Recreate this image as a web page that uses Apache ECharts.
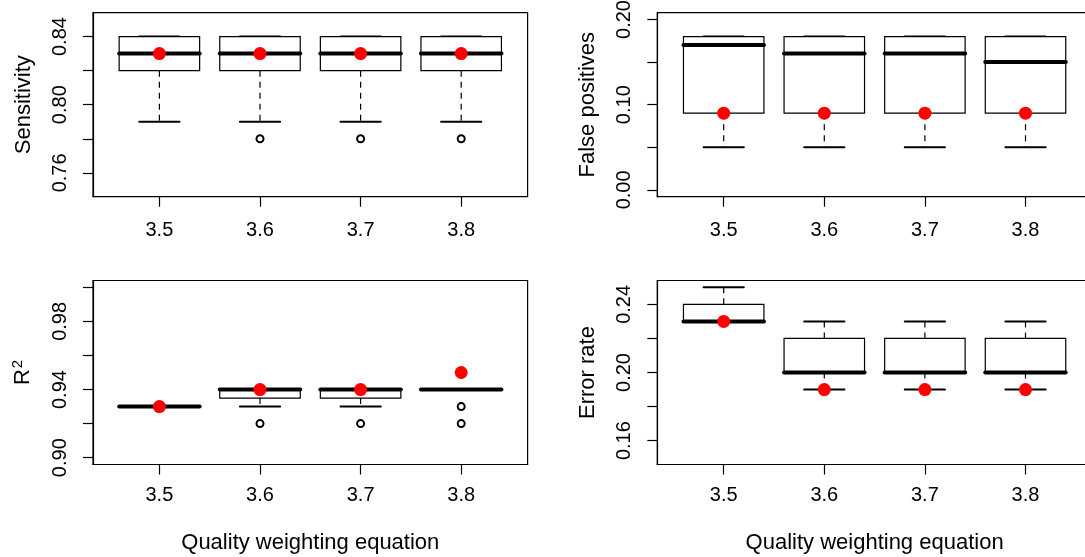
<!DOCTYPE html>
<html>
<head>
<meta charset="utf-8">
<title>Quality weighting equation</title>
<script src="https://cdn.jsdelivr.net/npm/echarts@6.0.0/dist/echarts.min.js"></script>
<style>
  html, body { margin: 0; padding: 0; background: #fff; }
  #chart { width: 1085px; height: 557px; }
</style>
</head>
<body>
<div id="chart"></div>
<script>
const categories = ['3.5', '3.6', '3.7', '3.8']

// Sensitivity
const sensLow = [0.79, 0.79, 0.79, 0.79]
const sensQ1 = [0.82, 0.82, 0.82, 0.82]
const sensMedian = [0.83, 0.83, 0.83, 0.83]
const sensQ3 = [0.84, 0.84, 0.84, 0.84]
const sensHigh = [0.84, 0.84, 0.84, 0.84]
const sensOutliers = [[], [0.78], [0.78], [0.78]]
const sensMean = [0.83, 0.83, 0.83, 0.83]
const sensTicks = [0.76, 0.78, 0.80, 0.82, 0.84]
const sensLabels = [0.76, 0.80, 0.84]

// False positives
const fpLow = [0.05, 0.05, 0.05, 0.05]
const fpQ1 = [0.09, 0.09, 0.09, 0.09]
const fpMedian = [0.17, 0.16, 0.16, 0.15]
const fpQ3 = [0.18, 0.18, 0.18, 0.18]
const fpHigh = [0.18, 0.18, 0.18, 0.18]
const fpOutliers = [[], [], [], []]
const fpMean = [0.09, 0.09, 0.09, 0.09]
const fpTicks = [0, 0.05, 0.10, 0.15, 0.20]
const fpLabels = [0, 0.10, 0.20]

// R squared
const r2Low = [0.93, 0.93, 0.93, 0.94]
const r2Q1 = [0.93, 0.935, 0.935, 0.94]
const r2Median = [0.93, 0.94, 0.94, 0.94]
const r2Q3 = [0.93, 0.94, 0.94, 0.94]
const r2High = [0.93, 0.94, 0.94, 0.94]
const r2Outliers = [[], [0.92], [0.92], [0.93, 0.92]]
const r2Mean = [0.93, 0.94, 0.94, 0.95]
const r2Ticks = [0.90, 0.92, 0.94, 0.96, 0.98, 1.00]
const r2Labels = [0.90, 0.94, 0.98]

// Error rate
const errLow = [0.23, 0.19, 0.19, 0.19]
const errQ1 = [0.23, 0.20, 0.20, 0.20]
const errMedian = [0.23, 0.20, 0.20, 0.20]
const errQ3 = [0.24, 0.22, 0.22, 0.22]
const errHigh = [0.25, 0.23, 0.23, 0.23]
const errOutliers = [[], [], [], []]
const errMean = [0.23, 0.19, 0.19, 0.19]
const errTicks = [0.16, 0.18, 0.20, 0.22, 0.24]
const errLabels = [0.16, 0.20, 0.24]

const FONT = "'Liberation Sans', Arial, Helvetica, sans-serif"

// plot regions (R style: shared frame size, right column runs past the edge)
const panels = [
  { left: 93, top: 12.7, title: 'Sensitivity', yMin: 0.746, yMax: 0.854, ticks: sensTicks, labels: sensLabels, xName: '', labelMargin: 24 },
  { left: 657.3, top: 12.7, title: 'False positives', yMin: -0.008, yMax: 0.208, ticks: fpTicks, labels: fpLabels, xName: '', labelMargin: 24 },
  { left: 93, top: 280.5, title: '{r|R}{s|2}', yMin: 0.896, yMax: 1.004, ticks: r2Ticks, labels: r2Labels, xName: 'Quality weighting equation', labelMargin: 21 },
  { left: 657.3, top: 280.5, title: 'Error rate', yMin: 0.146, yMax: 0.254, ticks: errTicks, labels: errLabels, xName: 'Quality weighting equation', labelMargin: 21 },
]

const boxStats = [
  [sensLow, sensQ1, sensMedian, sensQ3, sensHigh, sensOutliers, sensMean],
  [fpLow, fpQ1, fpMedian, fpQ3, fpHigh, fpOutliers, fpMean],
  [r2Low, r2Q1, r2Median, r2Q3, r2High, r2Outliers, r2Mean],
  [errLow, errQ1, errMedian, errQ3, errHigh, errOutliers, errMean],
]

function renderBox(params, api) {
  const x = api.value(0)
  const lo = api.value(1)
  const q1 = api.value(2)
  const med = api.value(3)
  const q3 = api.value(4)
  const hi = api.value(5)
  const pt = (dx, v) => api.coord([x + dx, v])
  const seg = (dx1, v1, dx2, v2, style) => {
    const a = pt(dx1, v1)
    const b = pt(dx2, v2)
    return { type: 'line', shape: { x1: a[0], y1: a[1], x2: b[0], y2: b[1] }, style }
  }
  const dashed = { stroke: '#000', lineWidth: 1.2, lineDash: [6, 5] }
  const cap = { stroke: '#000', lineWidth: 2, lineCap: 'round' }
  const children = []
  if (hi > q3) children.push(seg(0, q3, 0, hi, dashed))
  if (lo < q1) children.push(seg(0, q1, 0, lo, dashed))
  children.push(seg(-0.2, hi, 0.2, hi, cap))
  children.push(seg(-0.2, lo, 0.2, lo, cap))
  if (q3 > q1) {
    const a = pt(-0.4, q3)
    const b = pt(0.4, q1)
    children.push({
      type: 'rect',
      shape: { x: a[0], y: a[1], width: b[0] - a[0], height: b[1] - a[1] },
      style: { fill: '#fff', stroke: '#000', lineWidth: 1.2 },
    })
  }
  children.push(seg(-0.4, med, 0.4, med, { stroke: '#000', lineWidth: 4, lineCap: 'round' }))
  return { type: 'group', children }
}

const grid = []
const xAxis = []
const yAxis = []
const series = []

panels.forEach((p, i) => {
  grid.push({
    left: p.left,
    top: p.top,
    width: 434.6,
    height: 184,
    show: true,
    borderColor: '#000',
    borderWidth: 1.2,
    backgroundColor: 'transparent',
    containLabel: false,
    outerBoundsMode: 'none',
  })
  xAxis.push({
    gridIndex: i,
    type: 'value',
    min: 0.34,
    max: 4.66,
    splitLine: { show: false },
    axisLine: { show: true, onZero: false, lineStyle: { color: '#000', width: 1.2 } },
    axisTick: { show: true, length: 10, customValues: [1, 2, 3, 4], lineStyle: { color: '#000', width: 1.2 } },
    axisLabel: {
      customValues: [1, 2, 3, 4],
      formatter: v => categories[v - 1],
      color: '#000',
      fontSize: 20,
      fontFamily: FONT,
      margin: p.labelMargin,
    },
    name: p.xName,
    nameLocation: 'middle',
    nameGap: 67,
    nameTextStyle: { color: '#000', fontSize: 22, fontFamily: FONT },
  })
  yAxis.push({
    gridIndex: i,
    type: 'value',
    min: p.yMin,
    max: p.yMax,
    splitLine: { show: false },
    axisLine: { show: true, lineStyle: { color: '#000', width: 1.2 } },
    axisTick: { show: true, length: 10, customValues: p.ticks, lineStyle: { color: '#000', width: 1.2 } },
    axisLabel: {
      customValues: p.labels,
      formatter: v => v.toFixed(2),
      rotate: 90,
      color: '#000',
      fontSize: 20,
      fontFamily: FONT,
      margin: 23,
    },
    name: p.title,
    nameLocation: 'middle',
    nameRotate: 90,
    nameGap: 58,
    nameTextStyle: {
      color: '#000',
      fontSize: 22,
      fontFamily: FONT,
      rich: {
        r: { fontSize: 22, fontFamily: FONT, color: '#000' },
        s: { fontSize: 15, fontFamily: FONT, color: '#000', padding: [0, 0, 10, 1] },
      },
    },
  })

  const [lo, q1, med, q3, hi, outs, means] = boxStats[i]
  series.push({
    type: 'custom',
    xAxisIndex: i,
    yAxisIndex: i,
    renderItem: renderBox,
    encode: { x: 0, y: [1, 2, 3, 4, 5] },
    data: categories.map((c, k) => [k + 1, lo[k], q1[k], med[k], q3[k], hi[k]]),
    clip: false,
    silent: true,
    z: 2,
  })
  series.push({
    type: 'scatter',
    xAxisIndex: i,
    yAxisIndex: i,
    symbol: 'emptyCircle',
    symbolSize: 7,
    itemStyle: { color: '#000', borderColor: '#000', borderWidth: 2, opacity: 1 },
    data: outs.flatMap((vals, k) => vals.map(v => [k + 1, v])),
    silent: true,
    z: 3,
  })
  series.push({
    type: 'scatter',
    xAxisIndex: i,
    yAxisIndex: i,
    symbol: 'circle',
    symbolSize: 13,
    itemStyle: { color: '#ff0000', opacity: 1 },
    data: means.map((v, k) => [k + 1, v]),
    silent: true,
    z: 4,
  })
})

const chart = echarts.init(document.getElementById('chart'), null, { renderer: 'canvas' })
chart.setOption({
  animation: false,
  backgroundColor: '#fff',
  textStyle: { fontFamily: FONT },
  grid,
  xAxis,
  yAxis,
  series,
})
window.addEventListener('resize', () => chart.resize())
</script>
</body>
</html>
